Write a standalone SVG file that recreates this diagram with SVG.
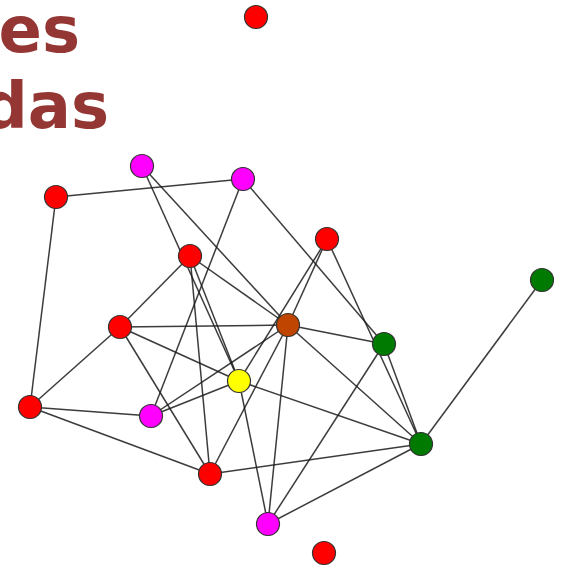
<svg xmlns="http://www.w3.org/2000/svg" width="562" height="570" viewBox="0 0 562 570">
<style>
.t{font-family:"DejaVu Sans",sans-serif;font-weight:bold;font-size:64px;fill:#943634}
.e line{stroke:#1a1a1a;stroke-width:1.5;stroke-opacity:0.85}
.n circle{stroke:#333;stroke-width:1.2}
.r{fill:#ff0000}.m{fill:#ff00ff}.g{fill:#007a00}.b{fill:#bf4500}.y{fill:#ffff00}
</style>
<rect width="562" height="570" fill="#fff"/>
<text class="t" x="80" y="52" text-anchor="end">es</text>
<text class="t" x="109" y="128" text-anchor="end">das</text>
<g class="e" id="edges">
<line x1="56" y1="197" x2="243" y2="179"/>
<line x1="56" y1="197" x2="30" y2="407"/>
<line x1="142" y1="166" x2="239" y2="381"/>
<line x1="142" y1="166" x2="288" y2="325"/>
<line x1="243" y1="179" x2="151" y2="416"/>
<line x1="243" y1="179" x2="384" y2="344"/>
<line x1="190" y1="256" x2="120" y2="327"/>
<line x1="190" y1="256" x2="288" y2="325"/>
<line x1="190" y1="256" x2="210" y2="474"/>
<line x1="190" y1="256" x2="239" y2="381"/>
<line x1="327" y1="239" x2="288" y2="325"/>
<line x1="327" y1="239" x2="239" y2="381"/>
<line x1="327" y1="239" x2="421" y2="444"/>
<line x1="542" y1="280" x2="421" y2="444"/>
<line x1="120" y1="327" x2="288" y2="325"/>
<line x1="120" y1="327" x2="30" y2="407"/>
<line x1="120" y1="327" x2="239" y2="381"/>
<line x1="120" y1="327" x2="210" y2="474"/>
<line x1="288" y1="325" x2="384" y2="344"/>
<line x1="288" y1="325" x2="421" y2="444"/>
<line x1="288" y1="325" x2="268" y2="524"/>
<line x1="288" y1="325" x2="151" y2="416"/>
<line x1="288" y1="325" x2="210" y2="474"/>
<line x1="384" y1="344" x2="421" y2="444"/>
<line x1="384" y1="344" x2="268" y2="524"/>
<line x1="239" y1="381" x2="151" y2="416"/>
<line x1="239" y1="381" x2="421" y2="444"/>
<line x1="239" y1="381" x2="268" y2="524"/>
<line x1="30" y1="407" x2="151" y2="416"/>
<line x1="30" y1="407" x2="210" y2="474"/>
<line x1="421" y1="444" x2="210" y2="474"/>
<line x1="421" y1="444" x2="268" y2="524"/>
</g>
<g class="n">
<g id="n1"><circle class="r" cx="256" cy="17" r="11.5"/></g>
<g id="n2"><circle class="m" cx="142" cy="166" r="11.5"/></g>
<g id="n3"><circle class="m" cx="243" cy="179" r="11.5"/></g>
<g id="n4"><circle class="r" cx="56" cy="197" r="11.5"/></g>
<g id="n5"><circle class="r" cx="190" cy="256" r="11.5"/></g>
<g id="n6"><circle class="r" cx="327" cy="239" r="11.5"/></g>
<g id="n7"><circle class="g" cx="542" cy="280" r="11.5"/></g>
<g id="n8"><circle class="r" cx="120" cy="327" r="11.5"/></g>
<g id="n9"><circle class="b" cx="288" cy="325" r="11.5"/></g>
<g id="n10"><circle class="g" cx="384" cy="344" r="11.5"/></g>
<g id="n11"><circle class="y" cx="239" cy="381" r="11.5"/></g>
<g id="n12"><circle class="r" cx="30" cy="407" r="11.5"/></g>
<g id="n13"><circle class="m" cx="151" cy="416" r="11.5"/></g>
<g id="n14"><circle class="g" cx="421" cy="444" r="11.5"/></g>
<g id="n15"><circle class="r" cx="210" cy="474" r="11.5"/></g>
<g id="n16"><circle class="m" cx="268" cy="524" r="11.5"/></g>
<g id="n17"><circle class="r" cx="324" cy="553" r="11.5"/></g>
</g>
</svg>
